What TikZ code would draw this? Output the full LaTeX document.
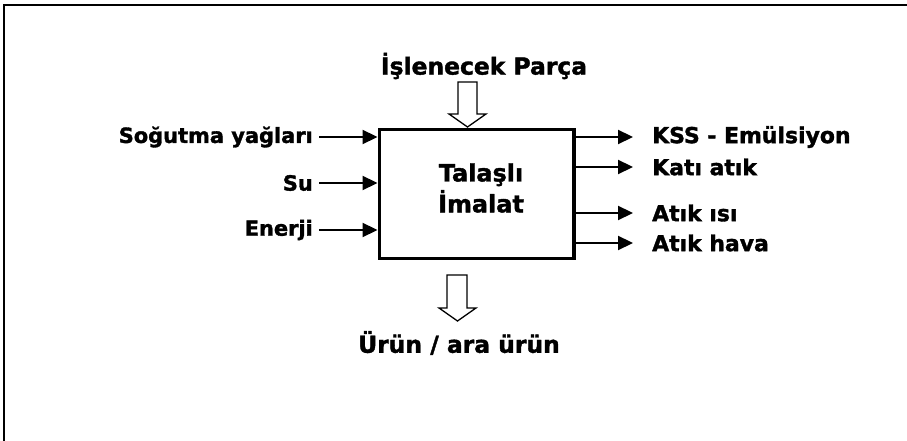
\documentclass[tikz,border=0pt]{standalone}
\usepackage{fontspec}
\setmainfont{DejaVu Sans}[BoldFeatures={FakeBold=1.6}]
\usetikzlibrary{arrows.meta}
\begin{document}
\begin{tikzpicture}[x=1bp,y=-1bp,
  lbl/.style={font=\fontsize{21}{28}\selectfont\bfseries, inner sep=0pt},
  big/.style={font=\fontsize{23.5}{31}\selectfont\bfseries, inner sep=0pt},
  outl/.style={font=\fontsize{22}{28}\selectfont\bfseries, inner sep=0pt},
  arr/.style={line width=2.2pt, -{Triangle[length=15bp,width=14bp]}},
  hollow/.style={line width=1.3pt, fill=white, line join=miter},
  frame/.style={line width=1.6pt}]
\useasboundingbox (0,0) rectangle (907,441);
% outer frame (extends beyond the picture)
\draw[frame] (4,460) -- (4,5) -- (930,5);
% main box
\node[draw, line width=4pt, minimum width=194bp, minimum height=129bp, inner sep=0pt] (box) at (476.5,194) {};
\node[big, align=center, font=\fontsize{24}{31}\selectfont\bfseries] (title) at (481,188) {Talaşlı\\İmalat};
% top label and hollow arrow
\node[big] (top) at (484,66) {İşlenecek Parça};
\draw[hollow] (458,82) -- (477,82) -- (477,114) -- (486,114) -- (467.5,127)
   -- (449,114) -- (458,114) -- cycle;
% bottom hollow arrow and label
\draw[hollow] (447,275) -- (467,275) -- (467,308) -- (476,308) -- (457.5,321)
   -- (439,308) -- (447,308) -- cycle;
\node[big] (bot) at (459,343) {Ürün / ara ürün};
% inputs
\node[lbl, anchor=east] (in1) at (313,137) {Soğutma yağları};
\node[lbl, anchor=east] (in2) at (313,183) {Su};
\node[lbl, anchor=east] (in3) at (313,230) {Enerji};
\foreach \n in {in1,in2,in3}
  \draw[arr] ([xshift=6bp]\n.east) -- (\n.east -| box.west);
% outputs
\node[outl, anchor=west] (out1) at (652,137) {KSS - Emülsiyon};
\node[outl, anchor=west] (out2) at (652,167) {Katı atık};
\node[outl, anchor=west] (out3) at (652,213) {Atık ısı};
\node[outl, anchor=west] (out4) at (652,243) {Atık hava};
\foreach \n in {out1,out2,out3,out4}
  \draw[arr, shorten >=19bp] (\n.west -| box.east) -- (\n.west);
\end{tikzpicture}
\end{document}
